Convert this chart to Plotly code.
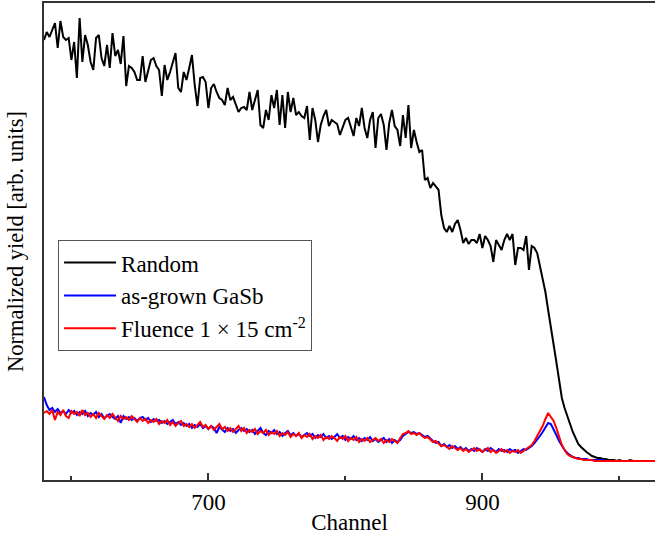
import plotly.graph_objects as go

channels = list(range(580, 1028, 2))

random_yield = [
    440, 448, 443, 450, 457, 432, 459, 443, 440, 442, 420, 438, 402, 462, 418, 445, 435, 418, 410, 442,
    445, 422, 414, 435, 412, 447, 424, 430, 416, 444, 394, 414, 412, 408, 400, 400, 424, 398, 410, 420,
    422, 414, 410, 384, 415, 400, 408, 418, 427, 392, 388, 408, 400, 412, 425, 395, 374, 402, 403, 398,
    372, 392, 396, 388, 382, 380, 375, 392, 380, 383, 375, 368, 372, 373, 370, 388, 370, 380, 390, 355,
    352, 370, 360, 385, 372, 390, 355, 385, 352, 388, 368, 382, 365, 368, 364, 362, 374, 340, 372, 360,
    338, 355, 364, 370, 354, 360, 358, 356, 345, 352, 360, 362, 354, 344, 362, 354, 372, 352, 342, 360,
    368, 332, 362, 366, 355, 330, 357, 370, 354, 350, 334, 365, 342, 375, 332, 350, 338, 328, 330, 300,
    302, 292, 297, 293, 290, 265, 252, 248, 254, 248, 256, 260, 250, 237, 242, 236, 240, 240, 237, 246,
    232, 244, 240, 234, 218, 240, 235, 230, 240, 246, 240, 246, 215, 232, 232, 230, 244, 210, 234, 232,
    227, 213, 200, 188, 170, 154, 137, 118, 100, 82, 72, 65, 56, 48, 42, 36, 33, 30, 28, 26,
    24, 23, 22, 22, 21, 21, 20, 20, 20, 19, 20, 19, 19, 19, 20, 19, 19, 19, 19, 19,
    19, 19, 19, 19,
]

asgrown_yield = [
    83, 75, 70, 72, 68, 71, 67, 69, 66, 70, 67, 69, 65, 68, 66, 69, 64, 67, 65, 68,
    63, 66, 62, 64, 66, 63, 61, 64, 57, 64, 61, 63, 60, 62, 59, 62, 63, 60, 62, 58,
    61, 59, 60, 57, 59, 56, 58, 60, 56, 58, 55, 57, 54, 56, 52, 55, 53, 56, 52, 54,
    51, 54, 52, 47, 53, 50, 48, 52, 49, 51, 47, 50, 52, 49, 51, 48, 50, 46, 49, 52,
    47, 45, 49, 47, 50, 46, 48, 44, 47, 49, 45, 47, 44, 46, 43, 45, 47, 44, 46, 42,
    45, 43, 46, 42, 44, 41, 43, 46, 42, 44, 40, 43, 41, 44, 40, 42, 39, 42, 40, 43,
    39, 41, 38, 40, 42, 38, 41, 37, 40, 38, 40, 44, 46, 48, 47, 48, 46, 47, 45, 43,
    44, 41, 39, 37, 38, 34, 36, 33, 35, 32, 34, 31, 33, 30, 32, 29, 31, 29, 32, 30,
    28, 31, 29, 32, 30, 28, 31, 29, 30, 28, 31, 29, 30, 27, 29, 31, 30, 32, 34, 37,
    40, 44, 48, 53, 57, 56, 51, 45, 39, 34, 30, 27, 25, 23, 22, 22, 21, 21, 21, 20,
    20, 20, 20, 20, 20, 19, 19, 19, 19, 19, 19, 19, 19, 19, 19, 19, 19, 19, 19, 19,
    19, 19, 19, 19,
]

fluence_yield = [
    67, 69, 66, 70, 60, 68, 65, 70, 64, 62, 69, 66, 68, 64, 70, 65, 67, 63, 66, 62,
    67, 64, 61, 65, 62, 66, 62, 59, 64, 61, 63, 60, 64, 61, 58, 62, 59, 61, 57, 60,
    58, 61, 56, 59, 57, 60, 55, 58, 54, 57, 59, 54, 56, 53, 56, 52, 55, 58, 53, 55,
    51, 54, 50, 53, 56, 51, 53, 49, 52, 48, 51, 54, 49, 52, 47, 50, 48, 51, 46, 49,
    47, 50, 45, 48, 46, 49, 44, 47, 45, 48, 43, 46, 44, 47, 42, 45, 43, 46, 41, 44,
    42, 45, 40, 43, 41, 44, 42, 39, 43, 41, 44, 39, 42, 40, 43, 38, 41, 39, 42, 38,
    40, 42, 39, 41, 37, 40, 38, 41, 39, 37, 42, 46, 47, 49, 46, 47, 45, 47, 44, 42,
    43, 40, 38, 39, 36, 34, 35, 33, 31, 34, 32, 30, 32, 29, 31, 28, 30, 32, 29, 31,
    28, 30, 32, 28, 30, 27, 29, 31, 28, 30, 27, 29, 28, 30, 27, 29, 31, 33, 35, 39,
    44, 49, 54, 61, 67, 63, 59, 52, 43, 35, 30, 26, 24, 23, 22, 21, 21, 20, 20, 20,
    20, 19, 19, 19, 19, 19, 19, 19, 19, 19, 19, 19, 19, 19, 19, 19, 19, 19, 19, 19,
    19, 19, 19, 19,
]

series_names = ["Random", "as-grown GaSb", "Fluence 1 × 15 cm<sup>-2</sup>"]
series_colors = ["#000000", "#0000ff", "#ff0000"]

FONT = "Liberation Serif"

fig = go.Figure()
for name, ys, col in zip(series_names, [random_yield, asgrown_yield, fluence_yield], series_colors):
    fig.add_trace(go.Scatter(x=channels, y=ys, mode="lines", name=name,
                             line=dict(color=col, width=2)))

fig.update_layout(
    width=655, height=535,
    margin=dict(l=44, r=0, t=3, b=55),
    paper_bgcolor="white", plot_bgcolor="white",
    font=dict(family=FONT, size=22, color="black"),
    showlegend=True,
    legend=dict(x=0.023, y=0.503, xanchor="left", yanchor="top",
                bordercolor="#555555", borderwidth=1, bgcolor="white",
                itemwidth=52, tracegroupgap=0,
                font=dict(family=FONT, size=23), traceorder="normal"),
    xaxis=dict(range=[580, 1026], showgrid=False, zeroline=False,
               showline=True, linecolor="#333333", linewidth=2, mirror=True,
               ticks="inside", ticklen=7, tickwidth=1.5, tickcolor="#333333",
               tick0=700, dtick=200,
               minor=dict(ticks="inside", ticklen=4, tickwidth=1.5, tickcolor="#333333",
                          tick0=600, dtick=100),
               tickfont=dict(family=FONT, size=23),
               title=dict(text="Channel", font=dict(family=FONT, size=23), standoff=2)),
    yaxis=dict(range=[0, 477], showgrid=False, zeroline=False,
               showline=True, linecolor="#333333", linewidth=2, mirror=False,
               showticklabels=False, ticks="",
               title=dict(text="Normalized yield [arb. units]",
                          font=dict(family=FONT, size=22.5), standoff=12)),
)

fig.write_html("out.html")
